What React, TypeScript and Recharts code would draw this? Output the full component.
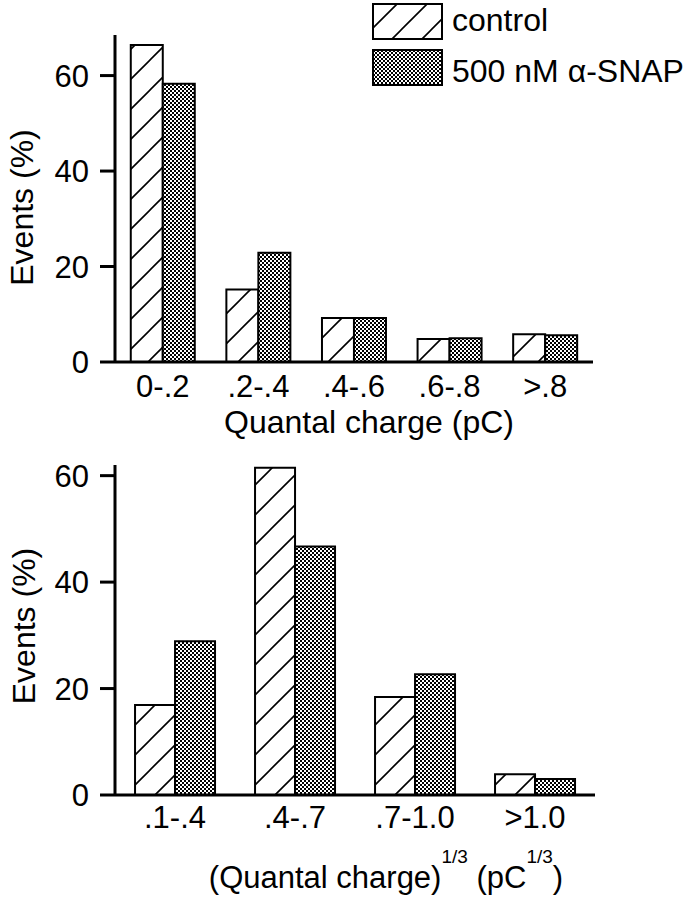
import React from 'react';
import { BarChart, Bar, XAxis, YAxis, Legend } from 'recharts';

const FONT = '"Liberation Sans", Arial, Helvetica, sans-serif';

// Top panel: quantal charge (pC)
const chargeBins = ['0-.2', '.2-.4', '.4-.6', '.6-.8', '>.8'];
const chargeControl = [66.4, 15.2, 9.2, 4.8, 5.8];
const chargeSnap = [58.3, 22.9, 9.2, 5.0, 5.6];

// Bottom panel: cube root of quantal charge
const cubeRootBins = ['.1-.4', '.4-.7', '.7-1.0', '>1.0'];
const cubeRootControl = [16.9, 61.5, 18.4, 3.9];
const cubeRootSnap = [28.9, 46.7, 22.7, 3.0];

const yTicks = [0, 20, 40, 60];
const seriesKeys = ['control', 'snap'];
const seriesNames = ['control', '500 nM \u03b1-SNAP'];

const topData = chargeBins.map((bin, i) => ({ bin, control: chargeControl[i], snap: chargeSnap[i] }));
const bottomData = cubeRootBins.map((bin, i) => ({ bin, control: cubeRootControl[i], snap: cubeRootSnap[i] }));

const axisStyle = { stroke: '#000', strokeWidth: 3 };
const tickText = { fill: '#000', fontSize: 31, fontFamily: FONT };

const YTitle = (props: any) => {
  const vb = props.viewBox || { x: 0, y: 0, width: 0, height: 0 };
  const cx = vb.x + props.bx;
  const cy = vb.y + vb.height / 2 + props.shift;
  return (
    <text x={cx} y={cy} transform={`rotate(-90 ${cx} ${cy})`} textAnchor="middle" fontSize={32} fontFamily={FONT} fill="#000">
      Events (%)
    </text>
  );
};

const TopXTitle = (props: any) => {
  const vb = props.viewBox || { x: 0, y: 0, width: 0, height: 0 };
  return (
    <text x={vb.x + vb.width / 2 + 15} y={vb.y + 71} textAnchor="middle" fontSize={32} fontFamily={FONT} fill="#000">
      Quantal charge (pC)
    </text>
  );
};

const BottomXTitle = (props: any) => {
  const vb = props.viewBox || { x: 0, y: 0, width: 0, height: 0 };
  return (
    <text x={vb.x + vb.width / 2 + 31} y={vb.y + 93} textAnchor="middle" fontSize={31} fontFamily={FONT} fill="#000">
      (Quantal charge)
      <tspan fontSize={19} dy={-25}>1/3</tspan>
      <tspan dy={25}> (pC</tspan>
      <tspan fontSize={19} dy={-25}>1/3</tspan>
      <tspan dy={25}>)</tspan>
    </text>
  );
};

const LegendContent = (props: any) => {
  const payload = [...(props.payload || [])].sort(
    (a: any, b: any) => seriesKeys.indexOf(a.dataKey) - seriesKeys.indexOf(b.dataKey)
  );
  return (
    <svg width={324} height={90} style={{ display: 'block' }}>
      {payload.map((e: any, i: number) => (
        <g key={i}>
          <rect x={2} y={4 + i * 46} width={69} height={35} fill={e.color} stroke="#000" strokeWidth={2} />
          <text x={81} y={31 + i * 51} fontSize={32} fontFamily={FONT} fill="#000">
            {e.value}
          </text>
        </g>
      ))}
    </svg>
  );
};

export default function App() {
  return (
    <div style={{ position: 'absolute', left: 0, top: 0, width: 696, height: 900, background: '#fff' }}>
      <svg width={0} height={0} style={{ position: 'absolute' }}>
        <defs>
          <pattern id="hatch" patternUnits="userSpaceOnUse" width={30} height={30}>
            <rect x={0} y={0} width={30} height={30} fill="#fff" />
            <path d="M0,30 L30,0 M-3,3 L3,-3 M27,33 L33,27" stroke="#000" strokeWidth={1.6} />
          </pattern>
          <pattern id="stipple" patternUnits="userSpaceOnUse" width={4} height={4}>
            <rect x={0} y={0} width={4} height={4} fill="#fff" />
            <rect x={0} y={0} width={2} height={2} fill="#000" />
            <rect x={2} y={2} width={2} height={2} fill="#000" />
          </pattern>
        </defs>
      </svg>

      <div style={{ position: 'absolute', left: 0, top: 0 }}>
        <BarChart width={696} height={440} data={topData} margin={{ top: 35, right: 103, left: 0, bottom: 38 }} barCategoryGap="16.5%" barGap={0}>
          <XAxis
            dataKey="bin"
            height={40}
            interval={0}
            axisLine={axisStyle}
            tickLine={false}
            tickSize={0}
            tickMargin={13}
            tick={tickText}
            label={<TopXTitle />}
          />
          <YAxis
            width={115}
            domain={[0, 68.5]}
            ticks={yTicks}
            interval={0}
            axisLine={axisStyle}
            tickLine={axisStyle}
            tickSize={15}
            tickMargin={11}
            tick={tickText}
            label={<YTitle bx={33} shift={9} />}
          />
          <Bar dataKey="control" name={seriesNames[0]} fill="url(#hatch)" stroke="#000" strokeWidth={2} isAnimationActive={false} />
          <Bar dataKey="snap" name={seriesNames[1]} fill="url(#stipple)" stroke="#000" strokeWidth={2} isAnimationActive={false} />
          <Legend
            layout="vertical"
            align="center"
            verticalAlign="middle"
            itemSorter="dataKey"
            content={<LegendContent />}
            wrapperStyle={{ position: 'absolute', left: 371, top: 0, width: 324, height: 90 }}
          />
        </BarChart>
      </div>

      <div style={{ position: 'absolute', left: 0, top: 440 }}>
        <BarChart width={696} height={460} data={bottomData} margin={{ top: 25, right: 101, left: 0, bottom: 45 }} barCategoryGap="16.7%" barGap={0}>
          <XAxis
            dataKey="bin"
            height={60}
            interval={0}
            axisLine={axisStyle}
            tickLine={false}
            tickSize={0}
            tickMargin={11}
            tick={tickText}
            label={<BottomXTitle />}
          />
          <YAxis
            width={115}
            domain={[0, 62]}
            ticks={yTicks}
            interval={0}
            axisLine={axisStyle}
            tickLine={axisStyle}
            tickSize={15}
            tickMargin={11}
            tick={tickText}
            label={<YTitle bx={35} shift={-4} />}
          />
          <Bar dataKey="control" name={seriesNames[0]} fill="url(#hatch)" stroke="#000" strokeWidth={2} isAnimationActive={false} />
          <Bar dataKey="snap" name={seriesNames[1]} fill="url(#stipple)" stroke="#000" strokeWidth={2} isAnimationActive={false} />
        </BarChart>
      </div>
    </div>
  );
}
